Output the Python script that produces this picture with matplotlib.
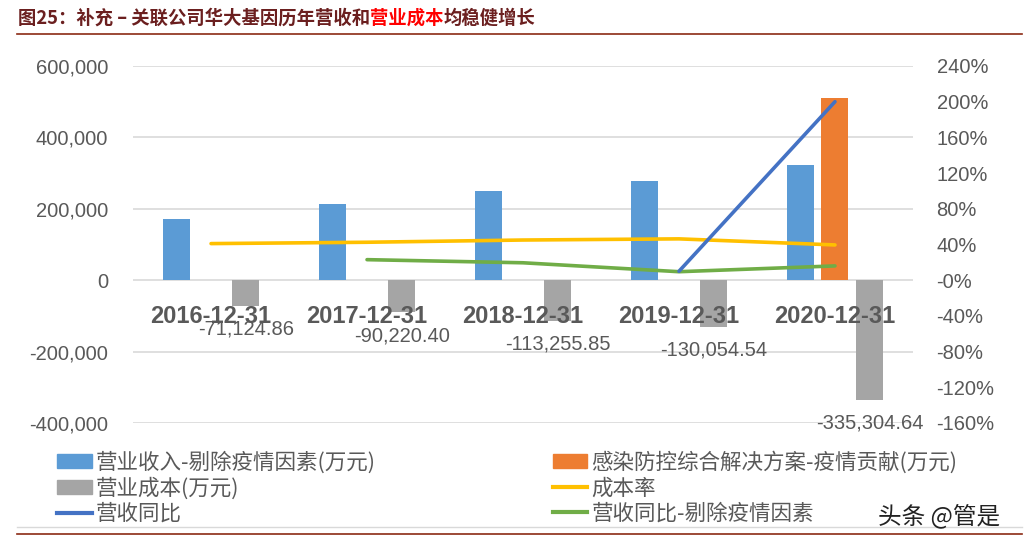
import numpy as np
import matplotlib
matplotlib.use("Agg")
import matplotlib.pyplot as plt
from matplotlib.patches import Patch
from matplotlib.lines import Line2D
from matplotlib.ticker import FuncFormatter

plt.rcParams['font.family'] = ['Liberation Sans', 'Noto Sans CJK SC', 'DejaVu Sans']

# data (万元 / %)
dates = ["2016-12-31", "2017-12-31", "2018-12-31", "2019-12-31", "2020-12-31"]
revenue_ex = [170300, 212400, 250600, 277800, 322700]
epidemic = [0, 0, 0, 0, 511500]
cost = [-71124.86, -90220.40, -113255.85, -130054.54, -335304.64]
cost_rate = [41.0, 42.5, 45.0, 46.3, 39.5]
yoy = [None, None, None, 10.0, 200.0]
yoy_ex = [None, 23.0, 19.5, 9.5, 16.0]

BLUE = "#5b9bd5"
ORANGE = "#ed7d31"
GRAY = "#a5a5a5"
YELLOW = "#ffc000"
LINEBLUE = "#4472c4"
GREEN = "#70ad47"
TXT = "#595959"
BROWN = "#8b2a14"

fig = plt.figure(figsize=(10.33, 5.45), dpi=100)
ax = fig.add_axes([0.1288, 0.2239, 0.755, 0.655])
ax2 = ax.twinx()

x = np.arange(len(dates))
w = 0.173
off = 0.222
ax.bar(x - off, revenue_ex, width=w, color=BLUE, zorder=2)
ax.bar(x, epidemic, width=w, color=ORANGE, zorder=2)
ax.bar(x + off, cost, width=w, color=GRAY, zorder=2)

# cost value labels under gray bars
for xi, v in zip(x, cost):
    ax.annotate(f"{v:,.2f}", xy=(xi + off, v), xytext=(0, -17), textcoords="offset points",
                ha="center", va="center", fontsize=14.5, color=TXT, zorder=5)

# category labels sit just below the zero line
for xi, d in zip(x, dates):
    ax.annotate(d, xy=(xi, 0), xytext=(0, -26), textcoords="offset points",
                ha="center", va="center", fontsize=17, fontweight="bold", color=TXT, zorder=6)

def line_pts(vals):
    xs = [xi for xi, v in zip(x, vals) if v is not None]
    ys = [v / 100 for v in vals if v is not None]
    return xs, ys

ax2.plot(*line_pts(cost_rate), color=YELLOW, lw=2.6, solid_capstyle="round", zorder=3)
ax2.plot(*line_pts(yoy_ex), color=GREEN, lw=2.6, solid_capstyle="round", zorder=3)
ax2.plot(*line_pts(yoy), color=LINEBLUE, lw=2.6, solid_capstyle="round", zorder=3)

ax.set_xlim(-0.5, 4.5)
ax.set_ylim(-400000, 600000)
ax.set_yticks(np.arange(-400000, 600001, 200000))
ax.yaxis.set_major_formatter(FuncFormatter(lambda v, p: f"{v:,.0f}"))
ax2.set_ylim(-1.6, 2.4)
ax2.set_yticks(np.arange(-1.6, 2.41, 0.4))
ax2.yaxis.set_major_formatter(FuncFormatter(lambda v, p: f"{v*100:.0f}%"))

ax.set_xticks([])
ax.grid(axis="y", color="#d9d9d9", lw=1.2, zorder=0)
for a in (ax, ax2):
    for s in a.spines.values():
        s.set_visible(False)
    a.tick_params(axis="y", length=0, labelsize=14.5, labelcolor=TXT)
ax.tick_params(axis="y", pad=18)
ax2.tick_params(axis="y", pad=17)

# legend
handles = [Patch(color=BLUE), Patch(color=GRAY), Line2D([], [], color=LINEBLUE, lw=3),
           Patch(color=ORANGE), Line2D([], [], color=YELLOW, lw=3), Line2D([], [], color=GREEN, lw=3)]
labels = ["营业收入-剔除疫情因素(万元)", "营业成本(万元)", "营收同比",
          "感染防控综合解决方案-疫情贡献(万元)", "成本率", "营收同比-剔除疫情因素"]
leg = fig.legend(handles, labels, ncol=2, loc="upper left", bbox_to_anchor=(0.045, 0.192),
                 frameon=False, fontsize=15.5, handlelength=1.6, handleheight=0.65,
                 handletextpad=0.2, columnspacing=8.2, labelspacing=0.16, borderpad=0)
for t in leg.get_texts():
    t.set_color(TXT)
    t.set_family(["Noto Sans CJK SC", "DejaVu Sans"])

# title, with the red part drawn as its own text
cjk = ["Noto Sans CJK SC", "DejaVu Sans"]
t1 = fig.text(18 / 1033, 1 - 18 / 545, "图25：补充 – 关联公司华大基因历年营收和", fontsize=13.2,
              fontweight="bold", color="#6b1f1f", family=cjk, va="center", ha="left")
fig.canvas.draw()
bb = t1.get_window_extent()
t2 = fig.text(bb.x1 / 1033, 1 - 18 / 545, "营业成本", fontsize=13.2, fontweight="bold",
              color="#ff0000", family=cjk, va="center", ha="left")
bb2 = t2.get_window_extent()
fig.text(bb2.x1 / 1033, 1 - 18 / 545, "均稳健增长", fontsize=13.2, fontweight="bold",
         color="#6b1f1f", family=cjk, va="center", ha="left")

fig.add_artist(Line2D([17 / 1033, 1022 / 1033], [1 - 34 / 545] * 2, color=BROWN, lw=1.2))
fig.add_artist(Line2D([17 / 1033, 1022 / 1033], [1 - 527 / 545] * 2, color="#d9d9d9", lw=1))
fig.add_artist(Line2D([17 / 1033, 1022 / 1033], [1 - 534 / 545] * 2, color=BROWN, lw=1.2))

fig.text(878 / 1033, 1 - 516 / 545, "头条 @管是", fontsize=17, color="#222222", family=cjk,
         va="center", ha="left")

fig.savefig("out.png", dpi=100)
